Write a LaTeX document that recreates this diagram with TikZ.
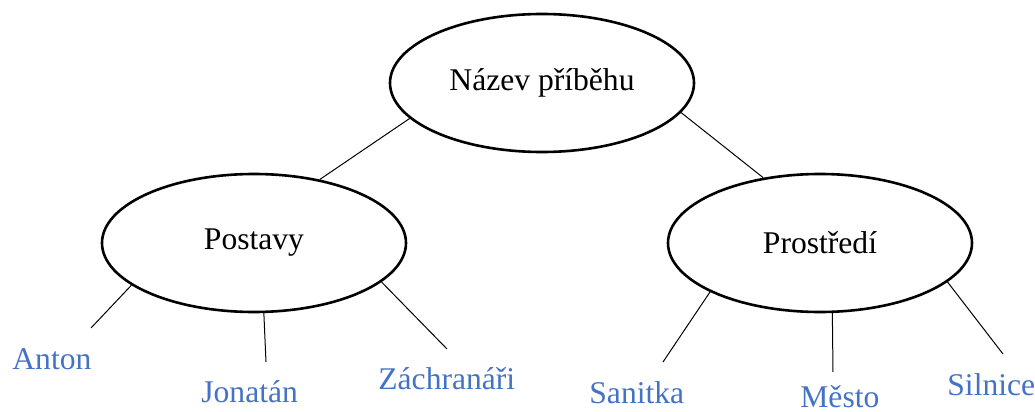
\documentclass[tikz,border=0pt]{standalone}
\usepackage{fontspec}
\setmainfont{Liberation Serif}
\usetikzlibrary{shapes}
\definecolor{leafblue}{RGB}{68,114,196}

\begin{document}
\begin{tikzpicture}[x = .5pt, y = -.5pt, oval/.style={draw, ellipse, line width = 1.3pt, minimum width = 152pt, minimum height = 69pt, inner sep = 0pt, font=\fontsize{15.8}{18}\selectfont}, leaf/.style={anchor = base west, inner sep = 0pt, text = leafblue, font=\fontsize{15.8}{18}\selectfont}, twig/.style={line width = .5pt}]
\useasboundingbox (0,0) rectangle (1035,412);
\node[oval] (title) at (542,83) {Název příběhu};
\node[oval] (postavy) at (254,243) {Postavy};
\node[oval] (prostredi) at (820,243) {Prostředí};
\draw[twig] (title.195) -- (postavy.44);
\draw[twig] (title.348) -- (prostredi.131);
%postavy
\path (12,369) node[leaf] (anton) {Anton};
\path (201,402) node[leaf] (jonatan) {Jonatán};
\path (378,389) node[leaf] (zachranari) {Záchranáři};
\coordinate (antonTip) at (91,328);
\coordinate (jonatanTip) at (266,362);
\coordinate (zachranariTip) at (447,349);
\draw[twig] (postavy.199) -- (antonTip);
\draw[twig] (postavy.278) -- (jonatanTip);
\draw[twig] (postavy.343) -- (zachranariTip);
%prostredi
\path (589,403) node[leaf] (sanitka) {Sanitka};
\path (800,407) node[leaf] (mesto) {Město};
\path (947,395) node[leaf] (silnice) {Silnice};
\coordinate (sanitkaTip) at (663,362);
\coordinate (mestoTip) at (833,372);
\coordinate (silniceTip) at (1003,354);
\draw[twig] (prostredi.204) -- (sanitkaTip);
\draw[twig] (prostredi.280) -- (mestoTip);
\draw[twig] (prostredi.343) -- (silniceTip);
\end{tikzpicture}
\end{document}
